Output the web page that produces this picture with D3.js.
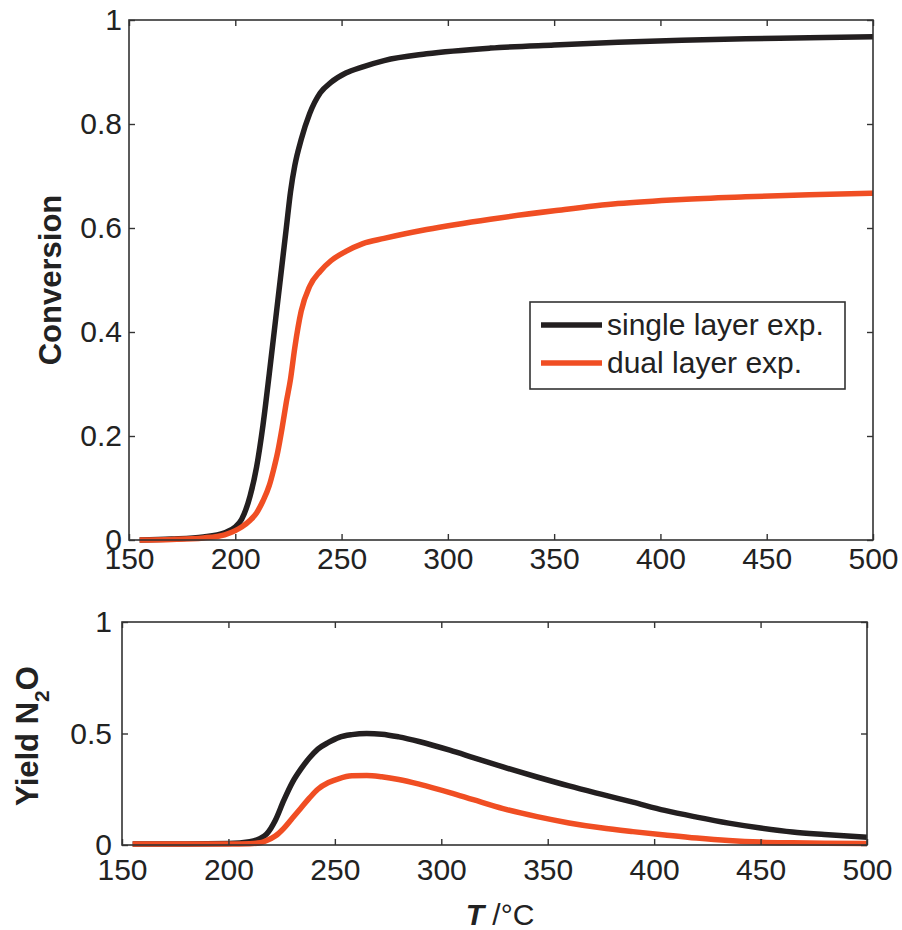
<!DOCTYPE html>
<html>
<head>
<meta charset="utf-8">
<script src="https://cdn.jsdelivr.net/npm/d3@7"></script>
<style>
  body { margin: 0; background: #fff; }
  text { font-family: "Liberation Sans", Arial, sans-serif; fill: #222; }
</style>
</head>
<body>
<div id="chart"></div>
<script>
// temperatures (°C) and conversion, top panel
var convTemps = [155,170,185,195,200,203,207,210,213,216,218,220,222,224,226,228,231,235,240,245,252,260,270,290,320,350,380,410,440,470,500];
var convSingle = [0,0.002,0.006,0.014,0.025,0.04,0.085,0.14,0.22,0.32,0.39,0.46,0.53,0.60,0.67,0.72,0.77,0.82,0.86,0.88,0.898,0.91,0.922,0.935,0.946,0.952,0.957,0.961,0.964,0.966,0.968];
var convDual = [0,0.001,0.004,0.01,0.018,0.025,0.038,0.052,0.075,0.105,0.135,0.17,0.215,0.265,0.31,0.37,0.44,0.488,0.517,0.537,0.555,0.57,0.58,0.597,0.617,0.633,0.647,0.655,0.66,0.664,0.667];

// temperatures (°C) and N2O yield, bottom panel
var yieldTemps = [155,180,200,210,215,218,222,226,230,234,238,242,247,252,258,265,272,280,290,304,315,329,345,360,375,390,405,420,435,450,465,480,500];
var yieldSingle = [0.005,0.005,0.007,0.015,0.03,0.05,0.11,0.2,0.28,0.34,0.39,0.43,0.46,0.483,0.495,0.5,0.497,0.485,0.463,0.425,0.392,0.35,0.305,0.265,0.228,0.192,0.155,0.125,0.098,0.076,0.058,0.047,0.035];
var yieldDual = [0.004,0.004,0.004,0.006,0.01,0.02,0.04,0.075,0.12,0.165,0.21,0.25,0.28,0.298,0.31,0.312,0.306,0.294,0.272,0.235,0.203,0.163,0.127,0.099,0.077,0.06,0.045,0.031,0.02,0.013,0.01,0.008,0.007];

var xTicks = [150,200,250,300,350,400,450,500];
var convTicks = [0,0.2,0.4,0.6,0.8,1];
var yieldTicks = [0,0.5,1];

var seriesNames = ["single layer exp.", "dual layer exp."];
var colors = ["#231f20", "#f04e23"];

var svg = d3.select("#chart").append("svg")
  .attr("width", 902)
  .attr("height", 930);

function drawPanel(box, temps, seriesList, yTicks, yFmt) {
  var g = svg.append("g")
    .attr("transform", "translate(" + box.left + "," + box.top + ")");

  var x = d3.scaleLinear().domain([150, 500]).range([0, box.width]);
  var y = d3.scaleLinear().domain([0, 1]).range([box.height, 0]);

  // lines first so the frame sits on top
  var line = d3.line()
    .x(function(d) { return x(d[0]); })
    .y(function(d) { return y(d[1]); })
    .curve(d3.curveMonotoneX);

  seriesList.forEach(function(vals, i) {
    g.append("path")
      .datum(temps.map(function(t, j) { return [t, vals[j]]; }))
      .attr("fill", "none")
      .attr("stroke", colors[i])
      .attr("stroke-width", 5.5)
      .attr("stroke-linejoin", "round")
      .attr("d", line);
  });

  // axes, ticks pointing inward
  var xb = g.append("g")
    .attr("transform", "translate(0," + box.height + ")")
    .call(d3.axisBottom(x).tickValues(xTicks).tickSize(-6).tickSizeOuter(0).tickPadding(box.xPad));
  var xt = g.append("g")
    .call(d3.axisTop(x).tickValues(xTicks).tickSize(-6).tickSizeOuter(0).tickFormat(""));
  var yl = g.append("g")
    .call(d3.axisLeft(y).tickValues(yTicks).tickSize(-6).tickSizeOuter(0).tickPadding(box.yPad).tickFormat(yFmt));
  var yr = g.append("g")
    .attr("transform", "translate(" + box.width + ",0)")
    .call(d3.axisRight(y).tickValues(yTicks).tickSize(-6).tickSizeOuter(0).tickFormat(""));

  [xb, xt, yl, yr].forEach(function(a) {
    a.selectAll(".domain").remove();
    a.selectAll("line").attr("stroke", "#333").attr("stroke-width", 1.4);
    a.selectAll("text")
      .style("font-family", "'Liberation Sans', Arial, sans-serif")
      .style("font-size", "30px")
      .attr("fill", "#222");
  });

  g.append("rect")
    .attr("width", box.width)
    .attr("height", box.height)
    .attr("fill", "none")
    .attr("stroke", "#333")
    .attr("stroke-width", 1.6);

  return { g: g, x: x, y: y };
}

var fmtConv = function(d) { return d === 0 || d === 1 ? d3.format("d")(d) : d3.format(".1f")(d); };

var top = drawPanel({left: 129, top: 20, width: 744, height: 520, xPad: 8, yPad: 7},
  convTemps, [convSingle, convDual], convTicks, fmtConv);

var bottom = drawPanel({left: 122, top: 622, width: 745, height: 223, xPad: 14, yPad: 10},
  yieldTemps, [yieldSingle, yieldDual], yieldTicks, fmtConv);

// legend in the top panel
var legend = svg.append("g").attr("transform", "translate(530,302)");
legend.append("rect")
  .attr("width", 315)
  .attr("height", 87)
  .attr("fill", "#fff")
  .attr("stroke", "#333")
  .attr("stroke-width", 1.6);
seriesNames.forEach(function(name, i) {
  var yy = 23 + i * 38;
  legend.append("line")
    .attr("x1", 11).attr("x2", 72)
    .attr("y1", yy).attr("y2", yy)
    .attr("stroke", colors[i])
    .attr("stroke-width", 5.5);
  legend.append("text")
    .attr("x", 77)
    .attr("y", yy + 10)
    .style("font-size", "30px")
    .text(name);
});

// y labels
svg.append("text")
  .attr("transform", "translate(61,280) rotate(-90)")
  .attr("text-anchor", "middle")
  .style("font-size", "31px")
  .style("font-weight", "bold")
  .text("Conversion");

var yLab = svg.append("text")
  .attr("transform", "translate(38,736) rotate(-90)")
  .attr("text-anchor", "middle")
  .style("font-size", "31px")
  .style("font-weight", "bold");
yLab.append("tspan").text("Yield N");
yLab.append("tspan").attr("dy", 11).style("font-size", "21px").text("2");
yLab.append("tspan").attr("dy", -11).text("O");

// x label
var xLab = svg.append("text")
  .attr("x", 500)
  .attr("y", 925)
  .attr("text-anchor", "middle")
  .style("font-size", "30px");
xLab.append("tspan").style("font-weight", "bold").style("font-style", "italic").text("T");
xLab.append("tspan").text(" /°C");
</script>
</body>
</html>
